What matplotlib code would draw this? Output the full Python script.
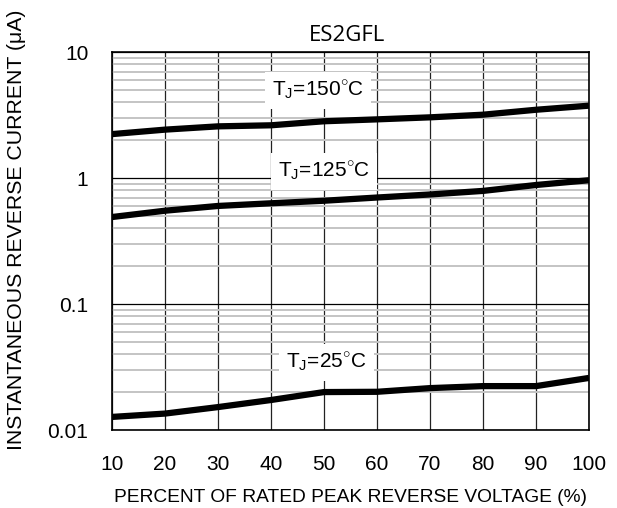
import matplotlib
matplotlib.use("Agg")
import matplotlib.pyplot as plt
import numpy as np
from matplotlib.ticker import LogLocator, NullFormatter, FixedLocator

plt.rcParams['font.family'] = ['Liberation Sans', 'DejaVu Sans']
plt.rcParams['mathtext.fontset'] = 'custom'
plt.rcParams['mathtext.rm'] = 'Liberation Sans'

# Data
voltage_pct = [10, 20, 30, 40, 50, 60, 70, 80, 90, 100]
ir_150 = [2.23, 2.42, 2.57, 2.62, 2.82, 2.92, 3.03, 3.18, 3.48, 3.75]
ir_125 = [0.49, 0.55, 0.60, 0.63, 0.66, 0.70, 0.74, 0.79, 0.88, 0.96]
ir_25 = [0.0127, 0.0135, 0.0152, 0.0173, 0.0200, 0.0201, 0.0215, 0.0223, 0.0223, 0.0259]
labels = ["T$_\\mathregular{J}$=150$^{\\circ}$C", "T$_\\mathregular{J}$=125$^{\\circ}$C", "T$_\\mathregular{J}$=25$^{\\circ}$C"]
label_pos = [(48.9, 4.95), (50.0, 1.12), (50.5, 0.0342)]
x_ticks = [10, 20, 30, 40, 50, 60, 70, 80, 90, 100]
y_ticks = [0.01, 0.1, 1, 10]
y_ticklabels = ["0.01", "0.1", "1", "10"]

W, H = 617, 508
fig = plt.figure(figsize=(W / 100, H / 100), dpi=100)
ax = fig.add_axes([112/W, 1-430/H, (589-112)/W, (430-52)/H])
ax.set_yscale('log')
ax.set_xlim(10, 100)
ax.set_ylim(0.01, 10)

ax.yaxis.set_major_locator(FixedLocator(y_ticks))
ax.set_yticklabels(y_ticklabels)
ax.yaxis.set_minor_locator(LogLocator(base=10, subs=np.arange(2, 10)))
ax.yaxis.set_minor_formatter(NullFormatter())
ax.set_xticks(x_ticks)

ax.grid(True, which='minor', axis='y', color='#c4c4c4', lw=1.4, zorder=1)
ax.grid(True, which='major', axis='y', color='black', lw=0.9, zorder=1)
ax.grid(True, which='major', axis='x', color='#222222', lw=0.9, zorder=1)

for yv in (ir_150, ir_125, ir_25):
    ax.plot(voltage_pct, yv, color='black', lw=4.5, solid_capstyle='butt', zorder=3)

for txt, (xp, yp) in zip(labels, label_pos):
    ax.text(xp, yp, txt, fontsize=15, ha='center', va='center', zorder=4,
            bbox=dict(facecolor='white', edgecolor='none', pad=5))

ax.tick_params(which='both', length=0)
ax.tick_params(axis='y', pad=17, labelsize=15)
ax.tick_params(axis='x', pad=18, labelsize=15)
for s in ax.spines.values():
    s.set_linewidth(1.2)
    s.set_zorder(5)

fig.text(347/W, 1-41/H, "ES2GFL", fontsize=16, family=['Open Sans', 'DejaVu Sans'],
         ha='center', va='baseline')
fig.text(350/W, 1-497/H, "PERCENT OF RATED PEAK REVERSE VOLTAGE (%)", fontsize=13.8,
         ha='center', va='center')
fig.text(17/W, 1-230/H, "INSTANTANEOUS REVERSE CURRENT (\u03bcA)", fontsize=15.3,
         ha='center', va='center', rotation=90)

fig.savefig("out.png", dpi=100)
